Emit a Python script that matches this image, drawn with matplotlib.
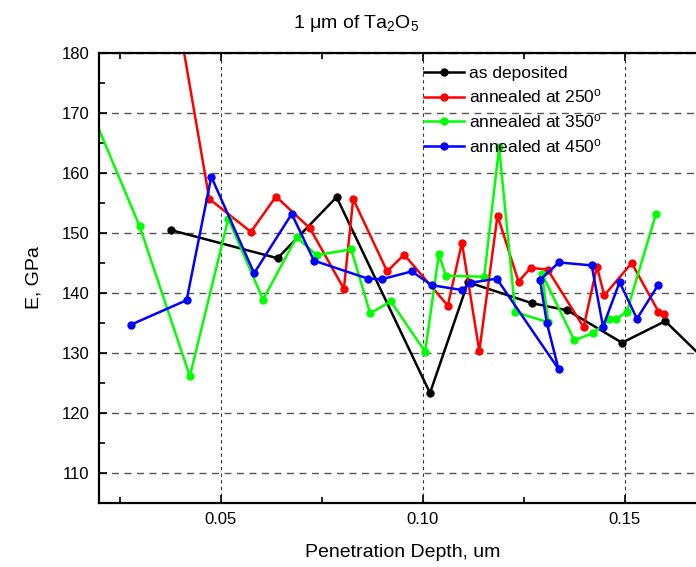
import matplotlib
matplotlib.use("Agg")
import matplotlib.pyplot as plt
from matplotlib.ticker import MultipleLocator, FixedLocator

plt.rcParams['font.family'] = ['Liberation Sans', 'DejaVu Sans']
plt.rcParams['mathtext.default'] = 'regular'

# ---- data ----
x_dep = [0.0377, 0.0641, 0.0787, 0.1018, 0.1112, 0.1270, 0.1358, 0.1493, 0.1600, 0.1720]
y_dep = [150.5, 145.8, 156.0, 123.3, 141.8, 138.3, 137.1, 131.7, 135.3, 127.4]

x_250 = [0.0380, 0.0472, 0.0575, 0.0637, 0.0721, 0.0805, 0.0828, 0.0912, 0.0954, 0.1062,
         0.1097, 0.1140, 0.1185, 0.1237, 0.1267, 0.1309, 0.1398, 0.1431, 0.1449, 0.1517,
         0.1583, 0.1596]
y_250 = [191.8, 155.7, 150.2, 156.1, 150.8, 140.7, 155.7, 143.6, 146.4, 137.9,
         148.4, 130.3, 152.9, 141.9, 144.2, 143.9, 134.3, 144.4, 139.6, 145.0,
         136.9, 136.5]

x_350 = [0.0150, 0.0300, 0.0424, 0.0519, 0.0605, 0.0688, 0.0738, 0.0823, 0.0870, 0.0921,
         0.1006, 0.1040, 0.1057, 0.1152, 0.1189, 0.1229, 0.1311, 0.1295, 0.1375, 0.1421,
         0.1462, 0.1478, 0.1505, 0.1577]
y_350 = [175.2, 151.1, 126.1, 152.4, 138.9, 149.3, 146.3, 147.3, 136.6, 138.6,
         130.2, 146.5, 142.9, 142.7, 164.3, 136.8, 135.1, 143.2, 132.1, 133.3,
         135.6, 135.6, 136.9, 153.2]

x_450 = [0.0278, 0.0416, 0.0477, 0.0583, 0.0676, 0.0731, 0.0864, 0.0899, 0.0973, 0.1022,
         0.1097, 0.1119, 0.1183, 0.1336, 0.1307, 0.1290, 0.1337, 0.1418, 0.1446, 0.1487,
         0.1530, 0.1582]
y_450 = [134.7, 138.8, 159.4, 143.3, 153.2, 145.4, 142.4, 142.3, 143.6, 141.3,
         140.5, 141.7, 142.4, 127.3, 135.0, 142.2, 145.1, 144.6, 134.4, 141.8,
         135.7, 141.3]

series = [
    (x_dep, y_dep, 'black', 'as deposited'),
    (x_250, y_250, '#ff0000', 'annealed at 250$^{o}$'),
    (x_350, y_350, '#00ff00', 'annealed at 350$^{o}$'),
    (x_450, y_450, '#0000ff', 'annealed at 450$^{o}$'),
]

x_ticks = [0.05, 0.10, 0.15]
x_ticklabels = ['0.05', '0.10', '0.15']
y_ticks = [110, 120, 130, 140, 150, 160, 170, 180]

W, H = 696, 567
fig = plt.figure(figsize=(W / 100, H / 100), dpi=100)
L, R, T, B = 99.3, 705.7, 53.3, 502.7
ax = fig.add_axes([L / W, 1 - B / H, (R - L) / W, (B - T) / H])

for xs, ys, c, lab in series:
    ax.plot(xs, ys, '-o', color=c, lw=1.8, ms=5, label=lab)

ax.set_xlim(0.02, 0.17)
ax.set_ylim(105, 180)

ax.xaxis.set_major_locator(FixedLocator(x_ticks))
ax.set_xticklabels(x_ticklabels)
ax.xaxis.set_minor_locator(MultipleLocator(0.025))
ax.yaxis.set_major_locator(FixedLocator(y_ticks))
ax.yaxis.set_minor_locator(MultipleLocator(5))

ax.tick_params(which='both', direction='in', top=True, right=False, labelsize=12, width=1.2)
ax.tick_params(which='major', length=6, pad=7)
ax.tick_params(which='minor', length=4)

for s in ['left', 'bottom', 'top']:
    ax.spines[s].set_linewidth(1.6)
ax.spines['right'].set_visible(False)

ax.xaxis.grid(True, which='major', ls=(0, (3, 3)), color='#333333', lw=0.8)
ax.yaxis.grid(True, which='major', ls=(0, (5, 4)), color='#555555', lw=1.0)
ax.set_axisbelow(True)

ax.set_xlabel('Penetration Depth, um', fontsize=14, labelpad=12)
ax.set_ylabel('E, GPa', fontsize=14, labelpad=14)

fig.text(356 / W, 1 - 24 / H, '1 μm of Ta$_2$O$_5$', ha='center', va='center', fontsize=14)

ax.legend(loc='upper left', bbox_to_anchor=(424 / W, 1 - 66 / H), bbox_transform=fig.transFigure,
          frameon=False, fontsize=12.5, handlelength=2.3, handletextpad=0.3,
          labelspacing=0.38, borderpad=0, borderaxespad=0, numpoints=1)

fig.savefig('out.png', dpi=100)
